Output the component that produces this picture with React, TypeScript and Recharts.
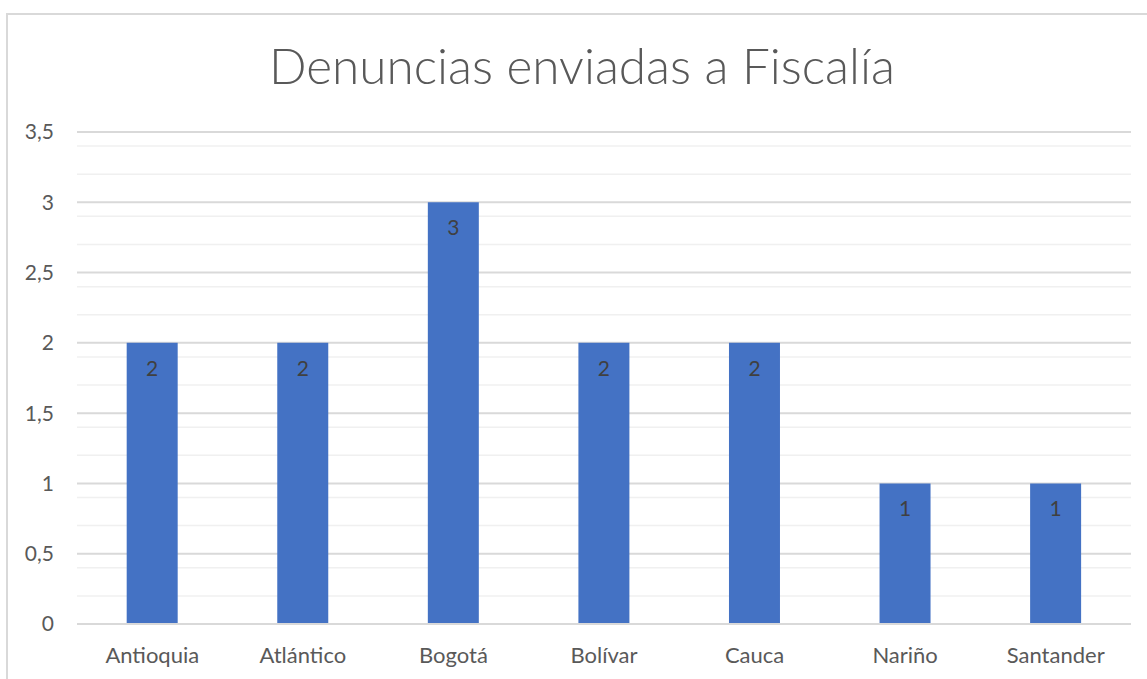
import React from 'react';
import { BarChart, Bar, XAxis, YAxis, CartesianGrid, LabelList } from 'recharts';

const departamentos = ['Antioquia', 'Atlántico', 'Bogotá', 'Bolívar', 'Cauca', 'Nariño', 'Santander'];
const denuncias = [2, 2, 3, 2, 2, 1, 1];
const yTicks = [0, 0.5, 1, 1.5, 2, 2.5, 3, 3.5];
const minorLines = [
  0.1, 0.2, 0.3, 0.4, 0.6, 0.7, 0.8, 0.9, 1.1, 1.2, 1.3, 1.4, 1.6, 1.7, 1.8, 1.9,
  2.1, 2.2, 2.3, 2.4, 2.6, 2.7, 2.8, 2.9, 3.1, 3.2, 3.3, 3.4,
];

const data = departamentos.map((d, i) => ({ name: d, value: denuncias[i] }));

const FONT = 'Lato, "Open Sans", sans-serif';

const App: React.FC = () => {
  return (
    <div style={{ position: 'fixed', left: 0, top: 0, width: 1147, height: 679, overflow: 'hidden', background: '#fff', fontFamily: FONT }}>
      <div
        style={{
          position: 'absolute', left: 6, top: 13, width: 1200, height: 700,
          border: '2px solid #d9d9d9', boxSizing: 'border-box',
        }}
      />
      <div
        style={{
          position: 'absolute', left: 0, top: 35, width: 1164, textAlign: 'center',
          fontSize: 49.5, fontWeight: 300, color: '#595959', lineHeight: '60px',
        }}
      >
        Denuncias enviadas a Fiscalía
      </div>
      <div style={{ position: 'absolute', left: 0, top: 0 }}>
        <BarChart
          width={1147}
          height={679}
          data={data}
          margin={{ top: 132, right: 16, bottom: 0, left: 0 }}
          barCategoryGap="33%"
        >
          <CartesianGrid
            vertical={false}
            horizontalValues={minorLines}
            stroke="#f0f0f0"
            strokeWidth={1.5}
          />
          <CartesianGrid vertical={false} stroke="#d9d9d9" strokeWidth={2} />
          <XAxis
            dataKey="name"
            height={55}
            tickLine={false}
            axisLine={{ stroke: '#d9d9d9', strokeWidth: 2 }}
            tickMargin={17}
            tick={{ fill: '#595959', fontSize: 22, fontFamily: FONT }}
          />
          <YAxis
            width={77}
            domain={[0, 3.5]}
            ticks={yTicks}
            tickLine={false}
            axisLine={false}
            tickMargin={17}
            tickFormatter={(v: number) => String(v).replace('.', ',')}
            tick={{ fill: '#595959', fontSize: 21, fontFamily: FONT }}
          />
          <Bar dataKey="value" fill="#4472C4" isAnimationActive={false}>
            <LabelList
              dataKey="value"
              position="insideTop"
              offset={18}
              fill="#404040"
              fontSize={21}
              fontFamily={FONT}
            />
          </Bar>
        </BarChart>
      </div>
    </div>
  );
};

export default App;
